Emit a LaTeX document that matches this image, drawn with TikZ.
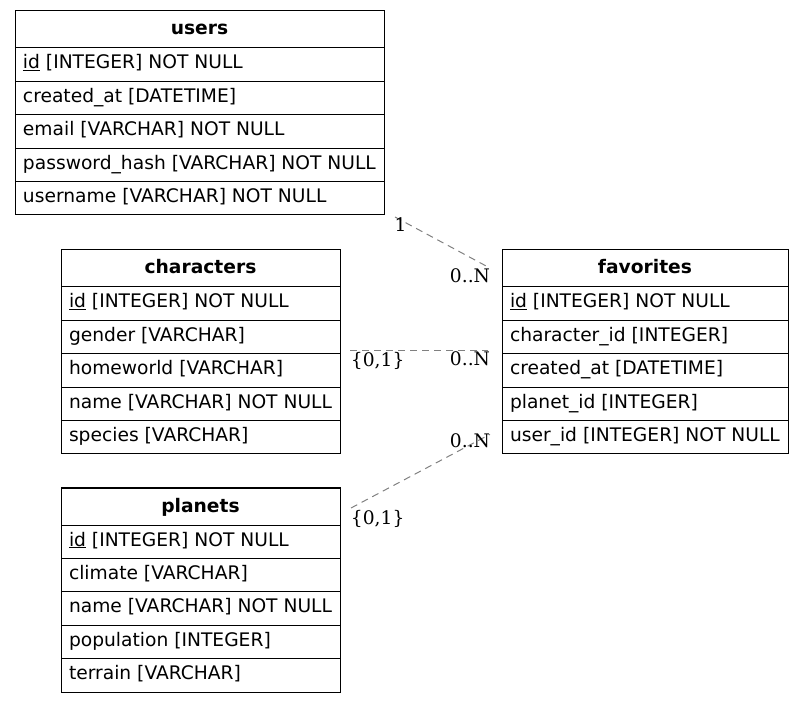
\documentclass[tikz,border=0pt]{standalone}
\usepackage{fontspec}
\setmainfont{DejaVu Sans}
\newfontfamily\cardfont{DejaVu Serif}
\usetikzlibrary{calc}

\tikzset{
  hdr/.style={draw, line width=1pt, anchor=north west, inner xsep=0pt, inner ysep=0pt, outer sep=0pt,
    minimum width=#1, minimum height=37pt, text height=13.6pt, text depth=2.6pt,
    font=\fontsize{18.67}{22}\selectfont\bfseries},
  fld/.style={draw, line width=1pt, anchor=north west, inner xsep=8pt, inner ysep=0pt, outer sep=0pt,
    minimum height=33.4pt, text height=13.6pt, text depth=5pt,
    font=\fontsize{18.67}{22}\selectfont,
    execute at begin node={\hbox to #1\bgroup}, execute at end node={\hfil\egroup}},
  rel/.style={draw=gray, line width=1pt, dash pattern=on 7pt off 5pt},
  card/.style={font=\cardfont\fontsize{18.67}{22}\selectfont, inner sep=0pt, anchor=base}
}

\begin{document}
\begin{tikzpicture}[x=1pt,y=-1pt]
\useasboundingbox (0,0) rectangle (804,703);

% users
\node[hdr=369pt] (u0) at (15,11) {users};
\node[fld=353pt] (u1) at (u0.south west) {\underline{id} [INTEGER] NOT NULL};
\node[fld=353pt] (u2) at (u1.south west) {created\_at [DATETIME]};
\node[fld=353pt] (u3) at (u2.south west) {email [VARCHAR] NOT NULL};
\node[fld=353pt] (u4) at (u3.south west) {password\_hash [VARCHAR] NOT NULL};
\node[fld=353pt] (u5) at (u4.south west) {username [VARCHAR] NOT NULL};

% characters
\node[hdr=279pt] (c0) at (61,250) {characters};
\node[fld=263pt] (c1) at (c0.south west) {\underline{id} [INTEGER] NOT NULL};
\node[fld=263pt] (c2) at (c1.south west) {gender [VARCHAR]};
\node[fld=263pt] (c3) at (c2.south west) {homeworld [VARCHAR]};
\node[fld=263pt] (c4) at (c3.south west) {name [VARCHAR] NOT NULL};
\node[fld=263pt] (c5) at (c4.south west) {species [VARCHAR]};

% planets
\node[hdr=279pt] (p0) at (61,488) {planets};
\node[fld=263pt] (p1) at (p0.south west) {\underline{id} [INTEGER] NOT NULL};
\node[fld=263pt] (p2) at (p1.south west) {climate [VARCHAR]};
\node[fld=263pt] (p3) at (p2.south west) {name [VARCHAR] NOT NULL};
\node[fld=263pt] (p4) at (p3.south west) {population [INTEGER]};
\node[fld=263pt] (p5) at (p4.south west) {terrain [VARCHAR]};

% favorites
\node[hdr=286pt] (f0) at (502,250) {favorites};
\node[fld=270pt] (f1) at (f0.south west) {\underline{id} [INTEGER] NOT NULL};
\node[fld=270pt] (f2) at (f1.south west) {character\_id [INTEGER]};
\node[fld=270pt] (f3) at (f2.south west) {created\_at [DATETIME]};
\node[fld=270pt] (f4) at (f3.south west) {planet\_id [INTEGER]};
\node[fld=270pt] (f5) at (f4.south west) {user\_id [INTEGER] NOT NULL};

% relation ends
\coordinate (ua) at ($(u5.south east)+(11,2)$);
\coordinate (fa) at ($(f0.north west)+(-14,17)$);
\coordinate (cb) at ($(c2.south east)+(10,-3)$);
\coordinate (fb) at ($(f2.south west)+(-14,-3)$);
\coordinate (pc) at ($(p0.east)+(11,1.5)$);
\coordinate (fc) at ($(f5.west)+(-12,-3)$);

\path[rel] (ua) -- (fa);
\path[rel] (cb) -- (fb);
\path[rel] (pc) -- (fc);

% cardinalities
\node[card] (ua1) at (400.5,232) {1};
\node[card] (fa1) at (470,283) {0..N};
\node[card] (cb1) at (377.7,366.5) {\{0,1\}};
\node[card] (fb1) at (470,366) {0..N};
\node[card] (fc1) at (470,447.3) {0..N};
\node[card] (pc1) at (377.7,524) {\{0,1\}};

\end{tikzpicture}
\end{document}
